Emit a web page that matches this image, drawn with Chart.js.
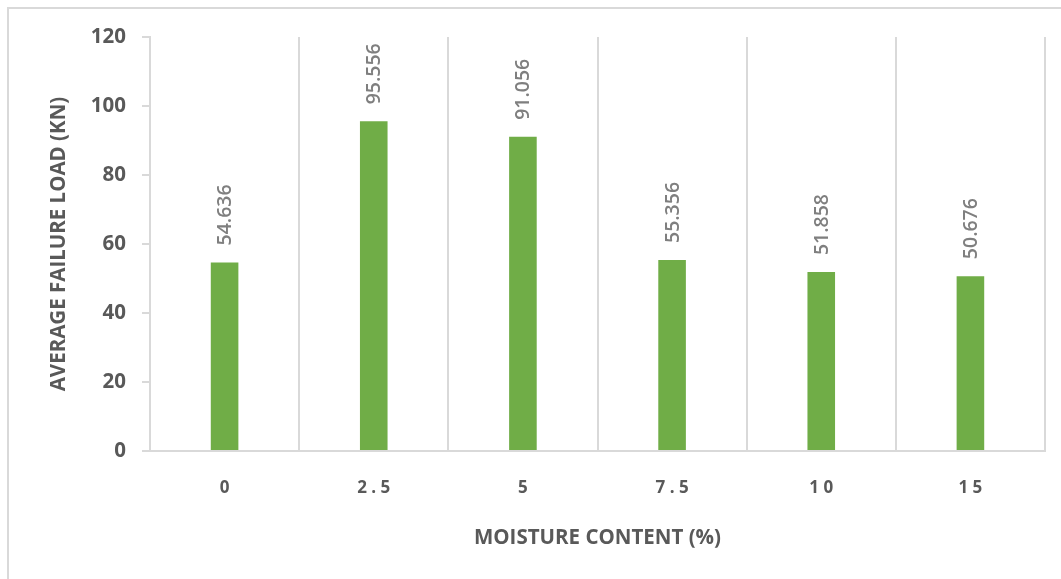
<!DOCTYPE html>
<html>
<head>
<meta charset="utf-8">
<script src="https://cdn.jsdelivr.net/npm/chart.js@4"></script>
<style>
  html, body { margin: 0; padding: 0; background: #fff; }
  #wrap { width: 1061px; height: 579px; position: relative; }
</style>
</head>
<body>
<div id="wrap"><canvas id="chart" width="1061" height="579"></canvas></div>
<script>
// chart values
const moisture = ['0', '2.5', '5', '7.5', '10', '15'];
const failureLoad = [54.636, 95.556, 91.056, 55.356, 51.858, 50.676];
const yTicks = [0, 20, 40, 60, 80, 100, 120];

const fontFam = '"Open Sans", "Liberation Sans", sans-serif';

// light grey frame round the whole chart
const framePlugin = {
    id: 'frame',
    beforeDraw(chart) {
        const ctx = chart.ctx;
        ctx.save();
        ctx.strokeStyle = '#d9d9d9';
        ctx.lineWidth = 2;
        ctx.strokeRect(8, 8, 2000, 2000);
        ctx.restore();
    }
};

// rotated value labels above each bar
const valueLabels = {
    id: 'valueLabels',
    afterDatasetsDraw(chart) {
        const ctx = chart.ctx;
        const meta = chart.getDatasetMeta(0);
        ctx.save();
        ctx.fillStyle = '#7f7f7f';
        ctx.font = '600 19.5px ' + fontFam;
        ctx.textAlign = 'left';
        ctx.textBaseline = 'middle';
        meta.data.forEach((bar, i) => {
            ctx.save();
            ctx.translate(bar.x + 1, bar.y - 17);
            ctx.rotate(-Math.PI / 2);
            ctx.fillText(failureLoad[i].toFixed(3), 0, 0);
            ctx.restore();
        });
        ctx.restore();
    }
};

const ctx = document.getElementById('chart').getContext('2d');
new Chart(ctx, {
    type: 'bar',
    data: {
        labels: moisture,
        datasets: [{
            label: 'Average failure load',
            data: failureLoad,
            backgroundColor: '#70ad47',
            borderWidth: 0,
            barPercentage: 0.37,
            categoryPercentage: 0.5
        }]
    },
    options: {
        responsive: false,
        animation: false,
        layout: { padding: { left: 47, right: 16, top: 37, bottom: 29 } },
        plugins: {
            legend: { display: false },
            tooltip: { enabled: false }
        },
        scales: {
            x: {
                grid: { color: '#d9d9d9', lineWidth: 2, drawTicks: false, offset: true },
                border: { color: '#d9d9d9', width: 2 },
                ticks: {
                    color: '#595959',
                    font: { family: fontFam, size: 17, weight: 'bold' },
                    padding: 27,
                    callback: function(value) {
                        return this.getLabelForValue(value).split('').join(' ');
                    }
                },
                title: {
                    display: true,
                    text: 'MOISTURE CONTENT (%)',
                    color: '#595959',
                    font: { family: fontFam, size: 20.5, weight: 'bold' },
                    padding: { top: 0, bottom: 0 }
                }
            },
            y: {
                min: 0,
                max: 120,
                afterBuildTicks: (scale) => { scale.ticks = yTicks.map(v => ({ value: v })); },
                afterFit: (scale) => { scale.width = 103; },
                grid: { drawOnChartArea: false, drawTicks: true, tickLength: 8, color: '#d9d9d9', lineWidth: 2 },
                border: { color: '#d9d9d9', width: 2 },
                ticks: {
                    color: '#595959',
                    font: { family: fontFam, size: 20.5, weight: 'bold' },
                    padding: 16
                },
                title: {
                    display: true,
                    text: 'AVERAGE FAILURE LOAD (KN)',
                    color: '#595959',
                    font: { family: fontFam, size: 20.5, weight: 'bold' },
                    padding: 0
                }
            }
        }
    },
    plugins: [framePlugin, valueLabels]
});
</script>
</body>
</html>
